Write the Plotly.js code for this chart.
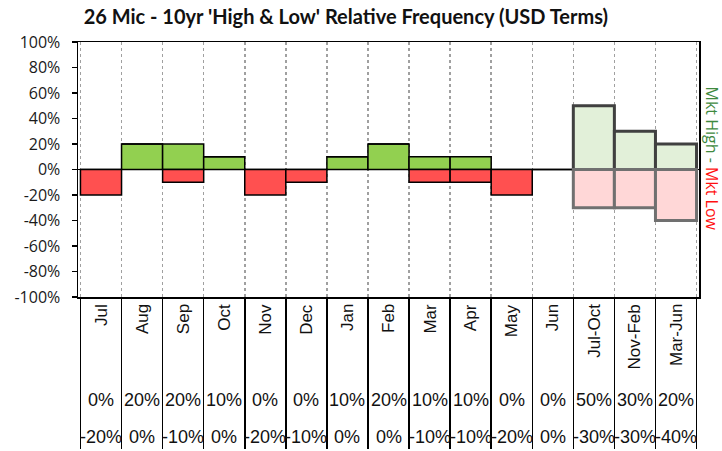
<!DOCTYPE html>
<html>
<head>
<meta charset="utf-8">
<script src="https://cdn.plot.ly/plotly-3.0.1.min.js"></script>
<style>html,body{margin:0;padding:0;background:#fff;}#chart{width:722px;height:451px;}</style>
</head>
<body>
<div id="chart"></div>
<script>
const categories = ['Jul','Aug','Sep','Oct','Nov','Dec','Jan','Feb','Mar','Apr','May','Jun','Jul-Oct','Nov-Feb','Mar-Jun'];
const highs = [0, 0.2, 0.2, 0.1, 0, 0, 0.1, 0.2, 0.1, 0.1, 0, 0, 0.5, 0.3, 0.2];
const lows = [-0.2, 0, -0.1, 0, -0.2, -0.1, 0, 0, -0.1, -0.1, -0.2, 0, -0.3, -0.3, -0.4];
const isGroup = [false,false,false,false,false,false,false,false,false,false,false,false,true,true,true];
const yTicks = [-1,-0.8,-0.6,-0.4,-0.2,0,0.2,0.4,0.6,0.8,1];
const yTickText = ['-100%','-80%','-60%','-40%','-20%','0%','20%','40%','60%','80%','100%'];

const pct = v => Math.round(v*100) + '%';
const highFill = isGroup.map(g => g ? '#E2F0D9' : '#92D050');
const lowFill = isGroup.map(g => g ? '#FFD7D7' : '#FF5050');
const highLine = isGroup.map(g => g ? '#404040' : '#000000');
const lowLine = isGroup.map(g => g ? '#707070' : '#000000');
const lineW = isGroup.map(g => g ? 3 : 1.5);

const traces = [
  {type:'bar', x:categories, y:highs, marker:{color:highFill, line:{color:highLine, width:lineW}}, hoverinfo:'skip'},
  {type:'bar', x:categories, y:lows, marker:{color:lowFill, line:{color:lowLine, width:lineW}}, hoverinfo:'skip'}
];

const narrow = 'Liberation Sans Narrow, Arial Narrow, Liberation Sans, Arial, sans-serif';
const annotations = [];
categories.forEach((c, i) => {
  annotations.push({x:c, xref:'x', y:0, yref:'paper', yanchor:'top', yshift:-5, text:c, textangle:-90,
    showarrow:false, font:{family:'Liberation Sans, Arial, sans-serif', size:17, color:'#111'}});
  annotations.push({x:c, xref:'x', y:0, yref:'paper', yanchor:'middle', yshift:-103, text:pct(highs[i]),
    showarrow:false, font:{family:narrow, size:18, color:'#111'}});
  annotations.push({x:c, xref:'x', y:0, yref:'paper', yanchor:'middle', yshift:-140, text:pct(lows[i]),
    showarrow:false, font:{family:narrow, size:18, color:'#111'}});
});
annotations.push({x:1, xref:'paper', xanchor:'center', xshift:13, y:0.5, yref:'paper', yanchor:'middle', yshift:11,
  textangle:90, showarrow:false,
  text:'<span style="color:#3F8A3F">Mkt High - </span><span style="color:#FF1010">Mkt Low</span>',
  font:{family:'Open Sans, sans-serif', size:16}});

const layout = {
  width:722, height:451,
  margin:{l:78, r:23, t:42, b:154},
  paper_bgcolor:'#ffffff', plot_bgcolor:'#ffffff',
  showlegend:false,
  barmode:'relative', bargap:0,
  title:{text:"26 Mic - 10yr 'High & Low' Relative Frequency (USD Terms)", x:0.479, xref:'container', xanchor:'center',
    y:0.962, yref:'container', yanchor:'middle', font:{family:'Lato, Open Sans, sans-serif', size:20, color:'#111', weight:'bold'}},
  xaxis:{type:'category', tickson:'boundaries', ticks:'outside', ticklen:150, tickwidth:1.5, tickcolor:'#000',
    showticklabels:false, showgrid:true, gridcolor:'#a0a0a0', griddash:'dot', gridwidth:1.5,
    showline:true, linecolor:'#000', linewidth:1.5, mirror:true, zeroline:false, fixedrange:true},
  yaxis:{range:[-1,1], tickvals:yTicks, ticktext:yTickText, ticks:'outside', ticklen:5, tickwidth:1.5, tickcolor:'#000',
    ticklabelstandoff:8,
    showgrid:false, zeroline:true, zerolinecolor:'#000', zerolinewidth:1.5,
    showline:true, linecolor:'#000', linewidth:1.5, mirror:true,
    tickfont:{family:'Open Sans, sans-serif', size:16, color:'#1a1a1a'}, fixedrange:true},
  annotations:annotations
};

Plotly.newPlot('chart', traces, layout, {staticPlot:true, displayModeBar:false});
</script>
</body>
</html>
